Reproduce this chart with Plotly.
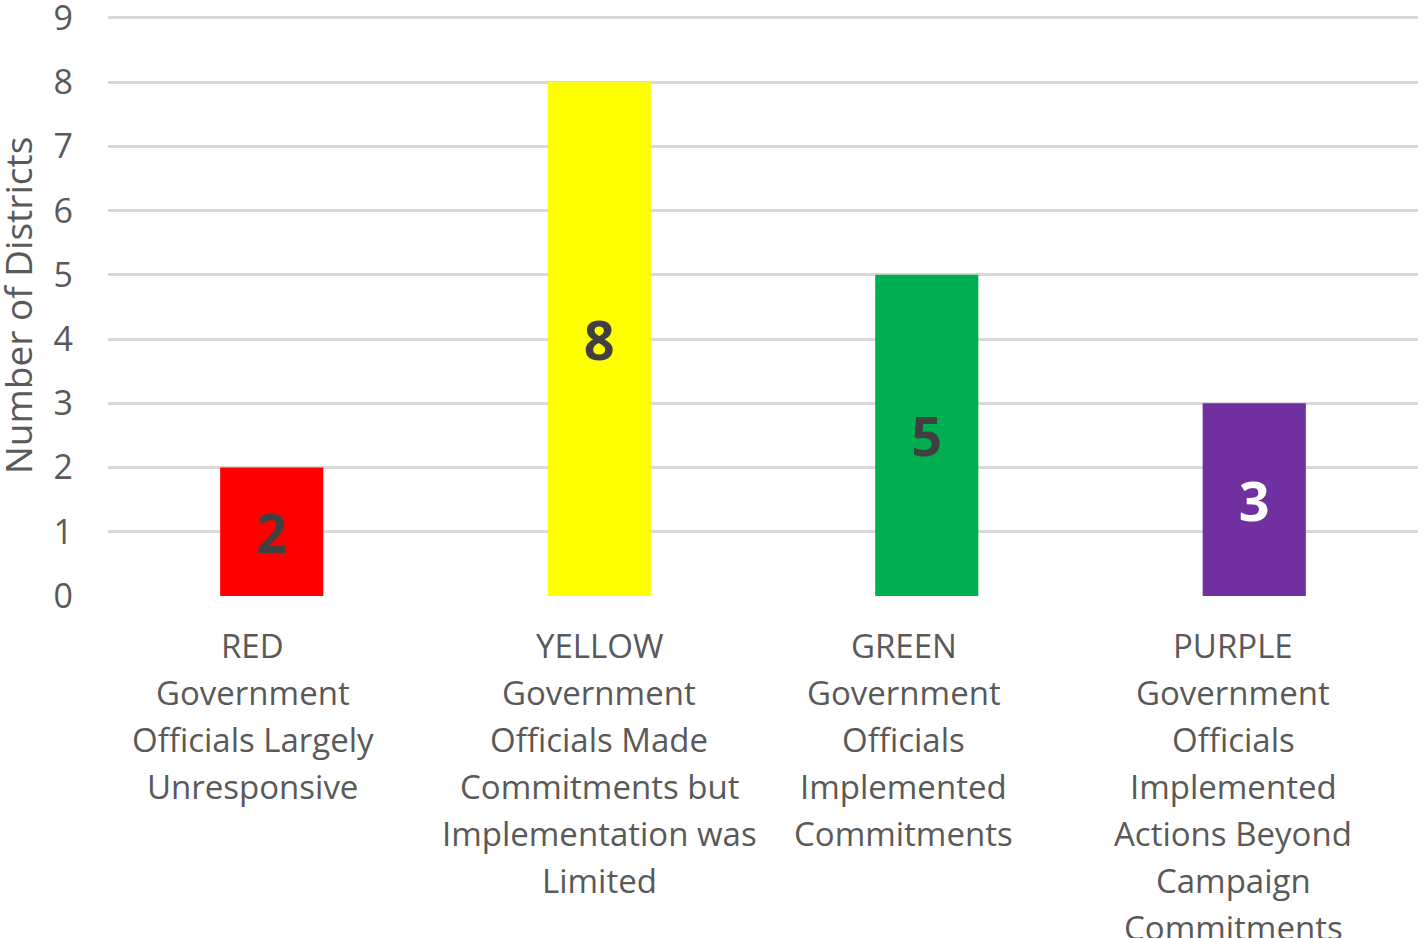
import plotly.graph_objects as go

# ---- data ----
categories = ["RED", "YELLOW", "GREEN", "PURPLE"]
label_lines = [
    ["RED", "Government", "Officials Largely", "Unresponsive"],
    ["YELLOW", "Government", "Officials Made", "Commitments but", "Implementation was", "Limited"],
    ["GREEN", "Government", "Officials", "Implemented", "Commitments"],
    ["PURPLE", "Government", "Officials", "Implemented", "Actions Beyond", "Campaign", "Commitments"],
]
values = [2, 8, 5, 3]
y_ticks = [0, 1, 2, 3, 4, 5, 6, 7, 8, 9]
y_title = "Number of Districts"

# ---- styles ----
bar_colors = ["#FF0000", "#FFFF00", "#00B050", "#7030A0"]
value_text_colors = ["#404040", "#404040", "#404040", "#FFFFFF"]
label_xshift = [-19, 0, -23, -21]
FONT = "Open Sans"
TXT = "#595959"

fig = go.Figure()
fig.add_trace(go.Bar(
    x=categories, y=values,
    marker=dict(color=bar_colors, line=dict(width=0)),
    text=[str(v) for v in values],
    textposition="inside", insidetextanchor="middle",
    textangle=0,
    textfont=dict(family=FONT, size=54, color=value_text_colors, weight="bold"),
    width=0.315,
    hoverinfo="skip",
    cliponaxis=False,
))

annotations = []
for ci, (cat, lines) in enumerate(zip(categories, label_lines)):
    for li, line in enumerate(lines):
        annotations.append(dict(
            x=cat, y=0, xref="x", yref="y",
            text=line, showarrow=False,
            xanchor="center", yanchor="middle",
            xshift=label_xshift[ci], yshift=-(49 + 47 * li),
            font=dict(family=FONT, size=33, color=TXT),
        ))
annotations.append(dict(
    x=(17 - 108) / 1310, y=0.5, xref="paper", yref="paper",
    text=y_title, showarrow=False, textangle=-90,
    xanchor="center", yanchor="middle",
    font=dict(family=FONT, size=37, color=TXT),
))

fig.update_layout(
    width=1424, height=938,
    margin=dict(l=108, r=6, t=16, b=342, autoexpand=False),
    paper_bgcolor="white", plot_bgcolor="white",
    showlegend=False,
    annotations=annotations,
    xaxis=dict(showticklabels=False, showgrid=False, zeroline=False,
               showline=False, range=[-0.5, 3.5], automargin=False),
    yaxis=dict(range=[0, 9.03], tickvals=y_ticks, showgrid=True,
               gridcolor="#D9D9D9", gridwidth=3, zeroline=False,
               showline=False, ticks="", automargin=False,
               tickfont=dict(family=FONT, size=34, color=TXT),
               ticklabelstandoff=34, ticklabeloverflow="allow"),
)
fig.write_html("out.html",
               config={"displayModeBar": False},
               post_script="document.body.style.margin='0';document.body.style.overflow='hidden';")
